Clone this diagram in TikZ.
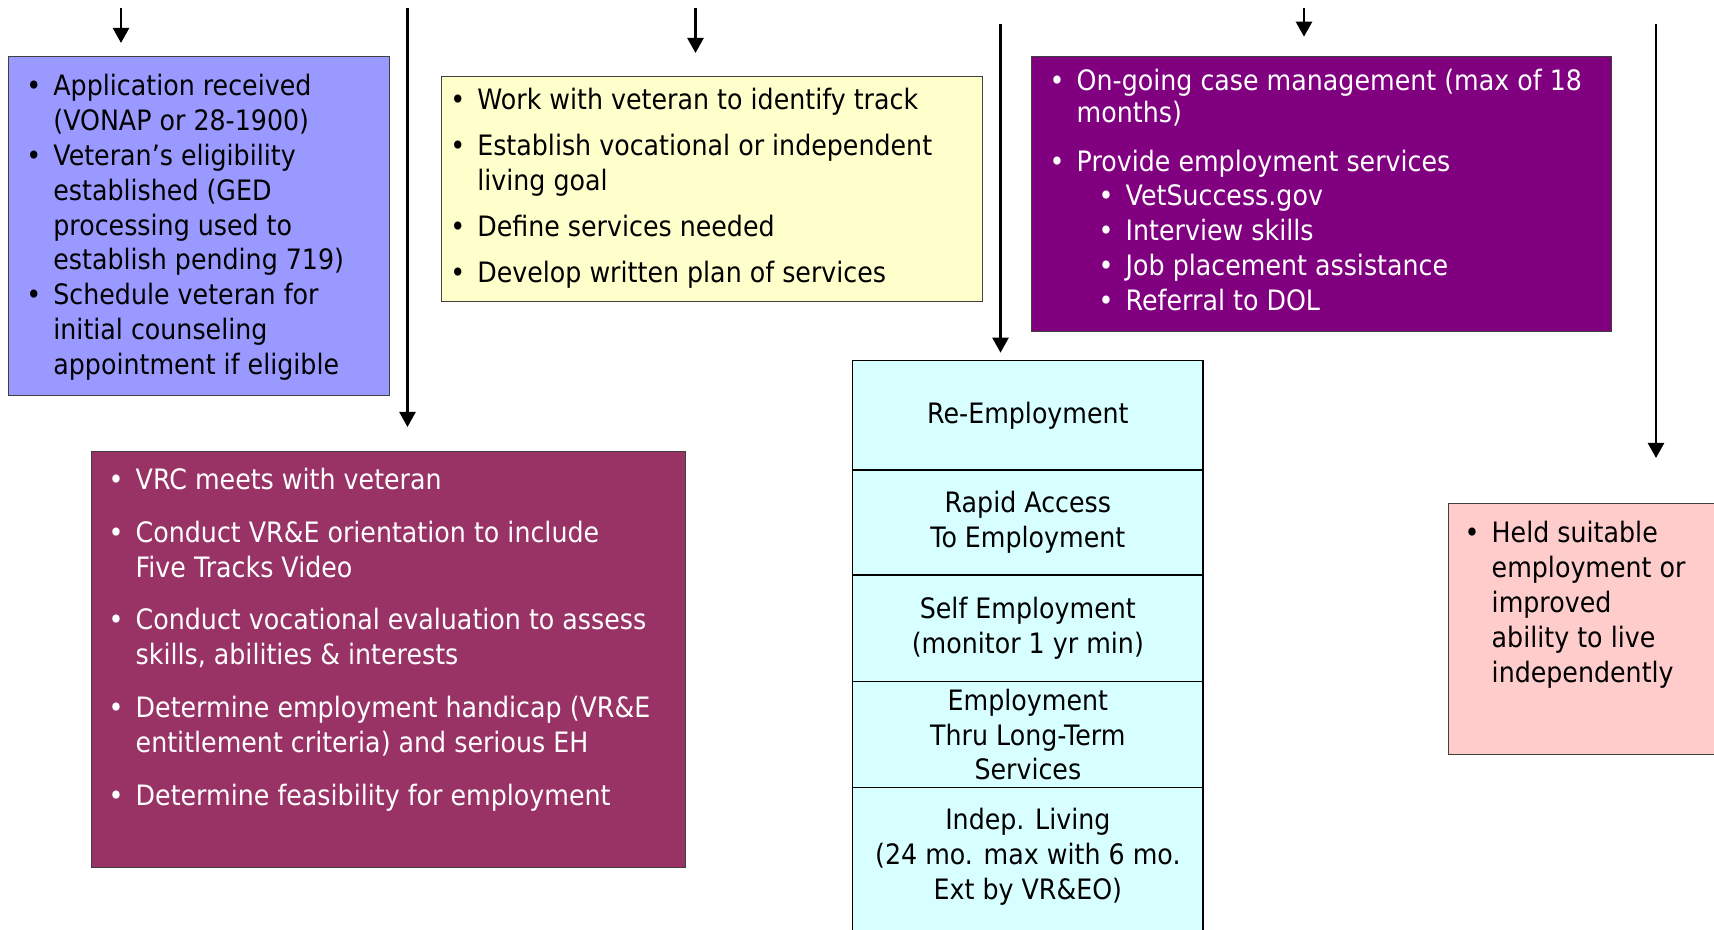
\documentclass[tikz,border=0pt]{standalone}
\usepackage{fontspec}
\setmainfont{DejaVu Sans}[FakeStretch=0.9]
\usepackage{tikz}
\usetikzlibrary{positioning, arrows.meta}

\definecolor{appblue}{HTML}{9999FF}
\definecolor{planyellow}{HTML}{FFFFCC}
\definecolor{casepurple}{HTML}{800080}
\definecolor{meetred}{HTML}{993366}
\definecolor{trackcyan}{HTML}{D8FFFF}
\definecolor{donepink}{HTML}{FFCCCC}
\definecolor{edgegray}{HTML}{404040}

\tikzset{
  box/.style={draw=edgegray, line width=0.4pt, inner sep=0pt, anchor=north west},
  list/.style={inner sep=0pt, anchor=base west, font=\fontsize{8pt}{9.9pt}\selectfont},
  track/.style={draw=black, line width=0.45pt, fill=trackcyan, minimum width=3.503cm, inner sep=0pt, outer sep=0pt, align=center, font=\fontsize{8pt}{9.9pt}\selectfont},
  flow/.style={line width=0.7pt, -{Triangle[length=0.15cm,width=0.16cm]}}
}
\newcommand{\bl}{\textbullet}
\newcommand{\subbl}{\hspace{0.22cm}\makebox[0.27cm][l]{\textbullet}}

\begin{document}
\begin{tikzpicture}
        \useasboundingbox (0,0) rectangle (17.14,9.30);
        \clip (0,0) rectangle (17.14,9.30);

        \node[box, fill=appblue, minimum width=3.809cm, minimum height=3.393cm] (apply) at (0.076,8.743) {};
        \node[box, fill=planyellow, minimum width=5.41cm, minimum height=2.25cm] (plan) at (4.41,8.54) {};
        \node[box, fill=casepurple, minimum width=5.80cm, minimum height=2.75cm] (case) at (10.31,8.743) {};
        \node[box, fill=meetred, minimum width=5.943cm, minimum height=4.157cm] (meet) at (0.907,4.79) {};
        \node[box, fill=donepink, minimum width=2.75cm, minimum height=2.51cm] (done) at (14.477,4.27) {};

        \node[list] (applytext) at (0.257,8.34) {\begin{tabular}[t]{@{}p{0.27cm}@{}l@{}}
          \bl & Application received\\
              & (VONAP or 28-1900)\\
          \bl & Veteran's eligibility\\
              & established (GED\\
              & processing used to\\
              & establish pending 719)\\
          \bl & Schedule veteran for\\
              & initial counseling\\
              & appointment if eligible
        \end{tabular}};
        \node[list] (plantext) at (4.496,8.20) {\begin{tabular}[t]{@{}p{0.27cm}@{}l@{}}
          \bl & Work with veteran to identify track\\[0.11cm]
          \bl & Establish vocational or independent\\
              & living goal\\[0.11cm]
          \bl & Define services needed\\[0.11cm]
          \bl & Develop written plan of services
        \end{tabular}};
        \node[list, text=white] (casetext) at (10.49,8.395) {\begin{tabular}[t]{@{}p{0.27cm}@{}l@{}}
          \bl & On-going case management (max of 18\\[-0.03cm]
              & months)\\[0.14cm]
          \bl & Provide employment services\\
              & \subbl VetSuccess.gov\\
              & \subbl Interview skills\\
              & \subbl Job placement assistance\\
              & \subbl Referral to DOL
        \end{tabular}};
        \node[list, text=white] (meettext) at (1.08,4.405) {\begin{tabular}[t]{@{}p{0.27cm}@{}l@{}}
          \bl & VRC meets with veteran\\[0.18cm]
          \bl & Conduct VR\&E orientation to include\\
              & Five Tracks Video\\[0.18cm]
          \bl & Conduct vocational evaluation to assess\\
              & skills, abilities \& interests\\[0.18cm]
          \bl & Determine employment handicap (VR\&E\\
              & entitlement criteria) and serious EH\\[0.18cm]
          \bl & Determine feasibility for employment
        \end{tabular}};
        \node[list] (donetext) at (14.64,3.87) {\begin{tabular}[t]{@{}p{0.27cm}@{}l@{}}
          \bl & Held suitable\\
              & employment or\\
              & improved\\
              & ability to live\\
              & independently
        \end{tabular}};

        \node[track, anchor=north west, minimum height=1.096cm] (reemp) at (8.527,5.693) {Re-Employment};
        \node[track, minimum height=1.047cm, below=0pt of reemp] (rapid) {Rapid Access\\To Employment};
        \node[track, minimum height=1.067cm, below=0pt of rapid] (selfemp) {Self Employment\\(monitor 1 yr min)};
        \node[track, minimum height=1.06cm, below=0pt of selfemp] (longterm) {Employment\\Thru Long-Term\\Services};
        \node[track, minimum height=1.56cm, below=0pt of longterm] (indep) {\raisebox{0pt}[\height][\dimexpr\depth+0.16cm\relax]{\begin{tabular}{@{}c@{}}Indep. Living\\(24 mo. max with 6 mo.\\Ext by VR\&EO)\end{tabular}}};

        \coordinate (in1) at (1.21,9.22);
        \coordinate (in2) at (4.075,9.22);
        \coordinate (in3) at (6.955,9.22);
        \coordinate (in4) at (10.005,9.06);
        \coordinate (in5) at (13.04,9.22);
        \coordinate (in6) at (16.56,9.06);
        \draw[flow, shorten >=0.127cm] (in1) -- (in1 |- apply.north);
        \draw[flow, shorten >=0.24cm] (in2) -- (in2 |- meet.north);
        \draw[flow, shorten >=0.23cm] (in3) -- (in3 |- plan.north);
        \draw[flow, shorten >=0.08cm] (in4) -- (in4 |- reemp.north);
        \draw[flow, shorten >=0.19cm] (in5) -- (in5 |- case.north);
        \draw[flow, shorten >=0.45cm] (in6) -- (in6 |- done.north);
\end{tikzpicture}
\end{document}
